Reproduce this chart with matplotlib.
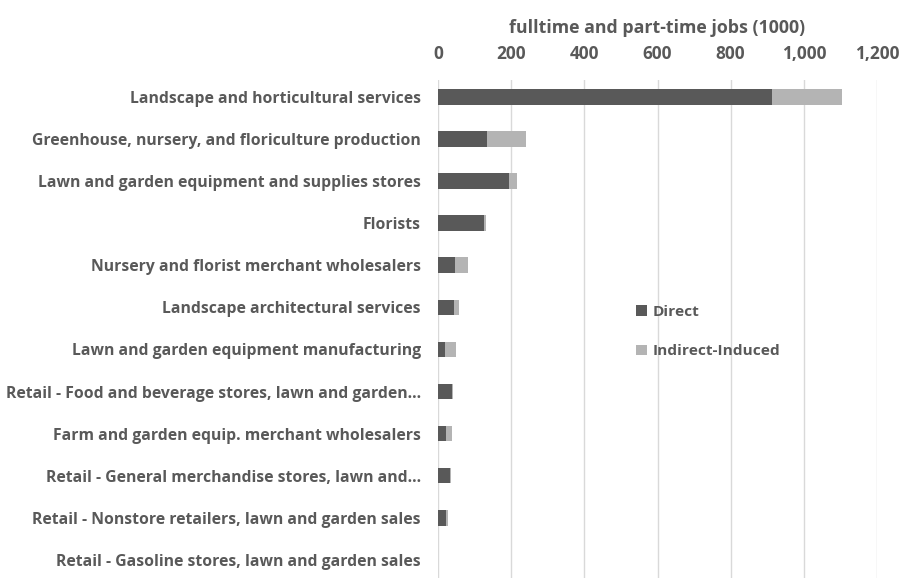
import matplotlib
matplotlib.use("Agg")
import matplotlib.pyplot as plt
from matplotlib.ticker import FuncFormatter

categories = [
    "Landscape and horticultural services",
    "Greenhouse, nursery, and floriculture production",
    "Lawn and garden equipment and supplies stores",
    "Florists",
    "Nursery and florist merchant wholesalers",
    "Landscape architectural services",
    "Lawn and garden equipment manufacturing",
    "Retail - Food and beverage stores, lawn and garden...",
    "Farm and garden equip. merchant wholesalers",
    "Retail - General merchandise stores, lawn and...",
    "Retail - Nonstore retailers, lawn and garden sales",
    "Retail - Gasoline stores, lawn and garden sales",
]
direct = [913, 134, 193, 125, 47, 43, 19, 38, 22, 34, 23, 1]
indirect = [192, 107, 22, 5, 35, 15, 30, 2, 16, 1, 3, 0]
xticks = [0, 200, 400, 600, 800, 1000, 1200]

txt = "#595959"
plt.rcParams['font.family'] = ['Open Sans', 'DejaVu Sans']
plt.rcParams['font.weight'] = 'bold'

fig = plt.figure(figsize=(8.99, 5.78), dpi=100)
ax = fig.add_axes([438 / 899, 0, (877 - 438) / 899, 1 - 80 / 578])

y = list(range(len(categories)))
ax.barh(y, direct, height=0.37, color="#595959", label="Direct", zorder=3)
ax.barh(y, indirect, left=direct, height=0.37, color="#b4b4b4",
        label="Indirect-Induced", zorder=3)

ax.set_xlim(0, 1200)
ax.set_ylim(11.43, -0.4)
ax.set_xticks(xticks)
ax.xaxis.set_major_formatter(FuncFormatter(lambda v, p: f"{int(v):,}"))
ax.xaxis.tick_top()
ax.xaxis.set_label_position("top")
ax.set_xlabel("fulltime and part-time jobs (1000)", color=txt, fontsize=12.8,
              fontweight='bold', labelpad=9)
ax.set_yticks(y)
ax.set_yticklabels(categories)
ax.tick_params(axis='x', length=0, pad=12, colors=txt, labelsize=12.4)
ax.tick_params(axis='y', length=0, pad=12.5, colors=txt, labelsize=11.3)
ax.grid(axis='x', color="#d9d9d9", linewidth=1, zorder=0)
for s in ax.spines.values():
    s.set_visible(False)

leg = ax.legend(loc='upper left', bbox_to_anchor=(622 / 899, 1 - 291 / 578),
                bbox_transform=fig.transFigure, frameon=False, fontsize=11.1,
                handlelength=0.7, handleheight=0.7, handletextpad=0.4,
                labelspacing=1.65)
for t in leg.get_texts():
    t.set_color(txt)

fig.savefig("out.png", dpi=100)
